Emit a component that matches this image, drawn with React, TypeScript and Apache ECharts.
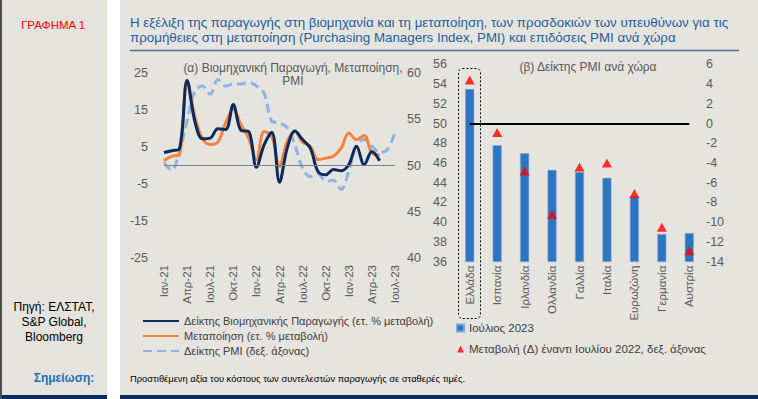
import React, { useEffect, useRef } from 'react';
import * as echarts from 'echarts';

const months = ['Ιαν-21','Φεβ-21','Μαρ-21','Απρ-21','Μαϊ-21','Ιουν-21','Ιουλ-21','Αυγ-21','Σεπ-21','Οκτ-21','Νοε-21','Δεκ-21','Ιαν-22','Φεβ-22','Μαρ-22','Απρ-22','Μαϊ-22','Ιουν-22','Ιουλ-22','Αυγ-22','Σεπ-22','Οκτ-22','Νοε-22','Δεκ-22','Ιαν-23','Φεβ-23','Μαρ-23','Απρ-23','Μαϊ-23','Ιουν-23','Ιουλ-23'];
const industrial = [3.5, 4, 4.5, 23, 12, 7.2, 7.4, 9.9, 9.7, 16.5, 9.5, 9.2, -0.5, 5.6, 9, -4.5, 4.7, 9.3, 7, 4.7, -1.6, -2.5, -1.1, -1.4, 0.2, 5.2, 0.2, 3.8, 1.3];
const manufacturing = [1.3, 2.5, 2.9, 23, 13.3, 7.2, 5.7, 6.3, 11.5, 15.3, 11, 7.4, 1.5, 9.2, 7.9, -0.2, 6.5, 9.2, 6.3, 5.2, 1.6, 2, 2.5, 4.7, 8.8, 7, 8.1, 3.4, 2.9];
const pmi = [50.3, 49.5, 51.5, 54.8, 58, 58.6, 57.7, 59.3, 58.6, 58.8, 58.8, 59, 58.6, 57.8, 54.8, 54.6, 54.1, 52.2, 49.7, 48.8, 49.1, 48.3, 48.4, 47.4, 49.4, 52.2, 52.8, 52.1, 51.4, 51.7, 53.6];

const countries = ['Ελλάδα','Ισπανία','Ιρλανδία','Ολλανδία','Γαλλία','Ιταλία','Ευρωζώνη','Γερμανία','Αυστρία'];
const pmiJul23 = [53.5, 47.8, 47.0, 45.3, 45.1, 44.5, 42.6, 38.8, 38.9];
const changeVsJul22 = [4.4, -0.9, -4.8, -9.2, -4.4, -4.0, -7.1, -10.5, -12.9];

const nameInd = 'Δείκτης Βιομηχανικής Παραγωγής (ετ. % μεταβολή)';
const nameMan = 'Μεταποίηση (ετ. % μεταβολή)';
const namePmi = 'Δείκτης PMI (δεξ. άξονας)';
const nameBar = 'Ιούλιος 2023';
const nameTri = 'Μεταβολή (Δ) έναντι Ιουλίου 2022, δεξ. άξονας';

const FONT = 'Arial, "Liberation Sans", sans-serif';
const NARROW = '"Liberation Sans Narrow", "Arial Narrow", Arial, "Liberation Sans", sans-serif';
const AX = '#595959';

export default function App() {
  const ref = useRef<HTMLDivElement>(null);
  useEffect(() => {
    document.body.style.margin = '0';
    const chart = echarts.init(ref.current!, null, { renderer: 'svg' });
    const txt = (text: string, x: number, y: number, o: any = {}) => ({
      type: 'text', x, y, z: 5,
      style: { text, fill: o.fill || '#000', fontSize: o.size || 12, fontFamily: o.family || FONT,
        fontWeight: o.weight || 'normal', textAlign: o.align || 'left', textVerticalAlign: 'middle' },
    });
    const option: any = {
      animation: false,
      backgroundColor: '#ffffff',
      textStyle: { fontFamily: FONT },
      graphic: [
        { type: 'rect', z: -10, shape: { x: 0, y: 0, width: 2, height: 399 }, style: { fill: '#4d4d4d' } },
        { type: 'rect', z: -10, shape: { x: 2, y: 0, width: 105, height: 399 }, style: { fill: '#e5e3de' } },
        { type: 'rect', z: -10, shape: { x: 120, y: 0, width: 638, height: 399 }, style: { fill: '#e6e4df' } },
        { type: 'rect', z: -9, shape: { x: 2, y: 395, width: 105, height: 4 }, style: { fill: '#0c2a5c' } },
        { type: 'rect', z: -9, shape: { x: 120, y: 395, width: 638, height: 4 }, style: { fill: '#0c2a5c' } },
        { type: 'line', z: -9, shape: { x1: 130, y1: 50.5, x2: 739, y2: 50.5 }, style: { stroke: '#4f7299', lineWidth: 1.5 } },
        txt('ΓΡΑΦΗΜΑ 1', 21, 25, { fill: '#ff0000', size: 11.5 }),
        txt('Η εξέλιξη της παραγωγής στη βιομηχανία και τη μεταποίηση, των προσδοκιών των υπευθύνων για τις', 130, 22, { fill: '#1f5e9e', size: 13.35 }),
        txt('προμήθειες στη μεταποίηση (Purchasing Managers Index, PMI) και επιδόσεις PMI ανά χώρα', 130, 37, { fill: '#1f5e9e', size: 13.35 }),
        txt('(α) Βιομηχανική Παραγωγή, Μεταποίηση,', 293, 67.5, { fill: AX, size: 12, align: 'center' }),
        txt('PMI', 293, 80.5, { fill: AX, size: 12, align: 'center' }),
        txt('(β) Δείκτης PMI ανά χώρα', 588, 67, { fill: AX, size: 12, align: 'center' }),
        txt('Πηγή: ΕΛΣΤΑΤ,', 54, 307, { size: 12, align: 'center', family: NARROW }),
        txt('S&P Global,', 54, 322, { size: 12, align: 'center', family: NARROW }),
        txt('Bloomberg', 54, 337, { size: 12, align: 'center', family: NARROW }),
        txt('Σημείωση:', 64, 378, { size: 12, align: 'center', weight: 'bold', fill: '#1f6fb5', family: NARROW }),
        txt('Προστιθέμενη αξία του κόστους των συντελεστών παραγωγής σε σταθερές τιμές.', 130, 378, { size: 9.4, family: NARROW }),
        { type: 'rect', z: 5, shape: { x: 458.5, y: 68.5, width: 22, height: 250, r: 4 },
          style: { fill: 'none', stroke: '#000', lineWidth: 1, lineDash: [2, 2] } },
      ],
      grid: [
        { left: 164, top: 73, width: 231, height: 185 },
        { left: 456, top: 64.3, width: 247, height: 197.4 },
      ],
      legend: [
        { data: [nameInd, nameMan, namePmi], orient: 'vertical', left: 142, top: 314.5, padding: 0, itemWidth: 36, itemHeight: 10,
          itemGap: 2, selectedMode: false, itemStyle: { opacity: 0 },
          textStyle: { fontSize: 11, color: '#404040', lineHeight: 13, fontFamily: FONT } },
        { data: [{ name: nameBar, icon: 'rect' }, { name: nameTri, icon: 'triangle' }], orient: 'vertical', left: 456, top: 321.5,
          padding: 0, itemWidth: 7, itemHeight: 7, itemGap: 8, selectedMode: false,
          textStyle: { fontSize: 11.5, color: '#404040', lineHeight: 13, fontFamily: FONT } },
      ],
      xAxis: [
        { type: 'category', gridIndex: 0, data: months, boundaryGap: false,
          axisLine: { show: false }, axisTick: { show: false },
          axisLabel: { rotate: 90, interval: 2, margin: 7, color: AX, fontSize: 11.5 } },
        { type: 'category', gridIndex: 1, data: countries,
          axisLine: { show: false }, axisTick: { show: false },
          axisLabel: { rotate: 90, interval: 0, margin: 4, color: AX, fontSize: 11.5 } },
      ],
      yAxis: [
        { type: 'value', gridIndex: 0, min: -25, max: 25, interval: 10, splitLine: { show: false },
          axisLine: { show: false }, axisTick: { show: false }, axisLabel: { color: AX, fontSize: 12.5, margin: 16 } },
        { type: 'value', gridIndex: 0, position: 'right', min: 40, max: 60, interval: 5, splitLine: { show: false },
          axisLine: { show: false }, axisTick: { show: false }, axisLabel: { color: AX, fontSize: 12.5, margin: 12 } },
        { type: 'value', gridIndex: 1, min: 36, max: 56, interval: 2, splitLine: { show: false },
          axisLine: { show: false }, axisTick: { show: false }, axisLabel: { color: AX, fontSize: 12.5, margin: 9 } },
        { type: 'value', gridIndex: 1, position: 'right', min: -14, max: 6, interval: 2, splitLine: { show: false },
          axisLine: { show: false }, axisTick: { show: false }, axisLabel: { color: AX, fontSize: 12.5, margin: 3 } },
      ],
      series: [
        { name: namePmi, type: 'line', xAxisIndex: 0, yAxisIndex: 1, data: pmi, smooth: 0.35, symbol: 'none',
          lineStyle: { color: '#8db4e2', width: 3, type: [9, 5] }, itemStyle: { color: '#8db4e2' }, z: 2 },
        { name: nameMan, type: 'line', xAxisIndex: 0, yAxisIndex: 0, data: manufacturing, smooth: 0.35, symbol: 'none',
          lineStyle: { color: '#f5823f', width: 3 }, itemStyle: { color: '#f5823f' }, z: 3 },
        { name: nameInd, type: 'line', xAxisIndex: 0, yAxisIndex: 0, data: industrial, smooth: 0.35, symbol: 'none',
          lineStyle: { color: '#0a2b5c', width: 3 }, itemStyle: { color: '#0a2b5c' }, z: 4,
          markLine: { silent: true, symbol: 'none', label: { show: false }, lineStyle: { color: '#808080', width: 1, type: 'solid' },
            data: [{ yAxis: 0 }] } },
        { name: nameBar, type: 'bar', xAxisIndex: 1, yAxisIndex: 2, data: pmiJul23, barWidth: 9,
          itemStyle: { color: '#2e75c0', borderColor: '#7ea7d8', borderWidth: 0.6 }, z: 2 },
        { name: nameTri, type: 'scatter', xAxisIndex: 1, yAxisIndex: 3, data: changeVsJul22, symbol: 'triangle',
          symbolSize: [10, 9], itemStyle: { color: '#ff0000' }, z: 4,
          markLine: { silent: true, symbol: 'none', label: { show: false }, lineStyle: { color: '#000', width: 2, type: 'solid' },
            data: [[{ coord: [countries[0], 0] }, { coord: [countries[countries.length - 1], 0] }]] } },
      ],
    };
    chart.setOption(option);
    return () => chart.dispose();
  }, []);
  return <div ref={ref} style={{ width: 758, height: 399 }} />;
}
